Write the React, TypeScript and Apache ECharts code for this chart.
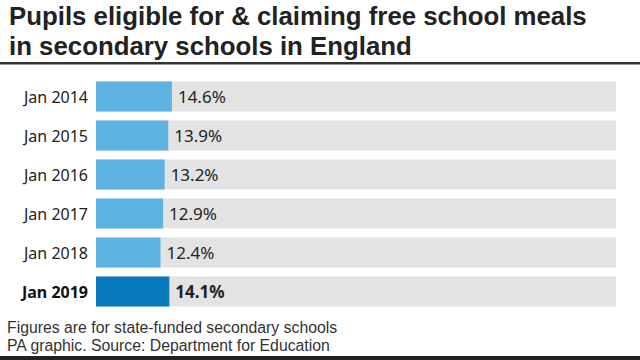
import React, { useEffect, useRef } from "react";
import * as echarts from "echarts";

const categories = ["Jan 2014", "Jan 2015", "Jan 2016", "Jan 2017", "Jan 2018", "Jan 2019"];
const values = [14.6, 13.9, 13.2, 12.9, 12.4, 14.1];
const highlightIndex = 5;
const titleLines = ["Pupils eligible for & claiming free school meals", "in secondary schools in England"];
const footnotes = ["Figures are for state-funded secondary schools", "PA graphic. Source: Department for Education"];

const FONT = "'Noto Sans', 'Open Sans', sans-serif";
const TIGHT = "'Liberation Sans', Arial, sans-serif";

export default function App() {
  const ref = useRef<HTMLDivElement>(null);
  useEffect(() => {
    if (!ref.current) return;
    const chart = echarts.init(ref.current, null, { renderer: "svg" });
    chart.setOption({
      animation: false,
      backgroundColor: "#ffffff",
      textStyle: { fontFamily: FONT },
      grid: { left: 96, right: 24, top: 77, height: 234, containLabel: false },
      xAxis: { type: "value", min: 0, max: 100, show: false },
      yAxis: {
        type: "category",
        data: categories,
        inverse: true,
        axisLine: { show: false },
        axisTick: { show: false },
        axisLabel: {
          margin: 8,
          fontSize: 16,
          color: "#222",
          fontFamily: FONT,
          formatter: (v: string, i: number) => (i === highlightIndex ? `{b|${v}}` : v),
          rich: { b: { fontWeight: "bold", fontSize: 16, color: "#111", fontFamily: FONT } },
        },
      },
      series: [
        {
          type: "bar",
          barWidth: 30,
          showBackground: true,
          backgroundStyle: { color: "#e3e3e3" },
          data: values.map((v, i) => ({
            value: v,
            itemStyle: { color: i === highlightIndex ? "#0878bd" : "#5db4e3" },
            label: {
              show: true,
              position: "right",
              distance: 6,
              fontSize: 17,
              color: "#222",
              fontFamily: FONT,
              fontWeight: i === highlightIndex ? "bold" : "normal",
              formatter: (p: any) => `${p.value.toFixed(1)}%`,
            },
          })),
        },
      ],
      graphic: [
        {
          type: "text",
          left: 9,
          top: 3,
          style: { text: titleLines[0], fontSize: 25.8, fontWeight: "bold", fill: "#222", fontFamily: TIGHT },
        },
        {
          type: "text",
          left: 9,
          top: 32.5,
          style: { text: titleLines[1], fontSize: 25.8, fontWeight: "bold", fill: "#222", fontFamily: TIGHT },
        },
        { type: "rect", shape: { x: 0, y: 62, width: 640, height: 2.5 }, style: { fill: "#333" } },
        {
          type: "text",
          left: 7,
          top: 319,
          style: { text: footnotes[0], fontSize: 15.8, fill: "#333", fontFamily: TIGHT },
        },
        {
          type: "text",
          left: 7,
          top: 337,
          style: { text: footnotes[1], fontSize: 15.8, fill: "#333", fontFamily: TIGHT },
        },
        { type: "rect", shape: { x: 0, y: 356, width: 640, height: 4 }, style: { fill: "#222" } },
      ],
    });
    return () => chart.dispose();
  }, []);
  return <div ref={ref} style={{ width: 640, height: 360, position: "absolute", left: 0, top: 0 }} />;
}
